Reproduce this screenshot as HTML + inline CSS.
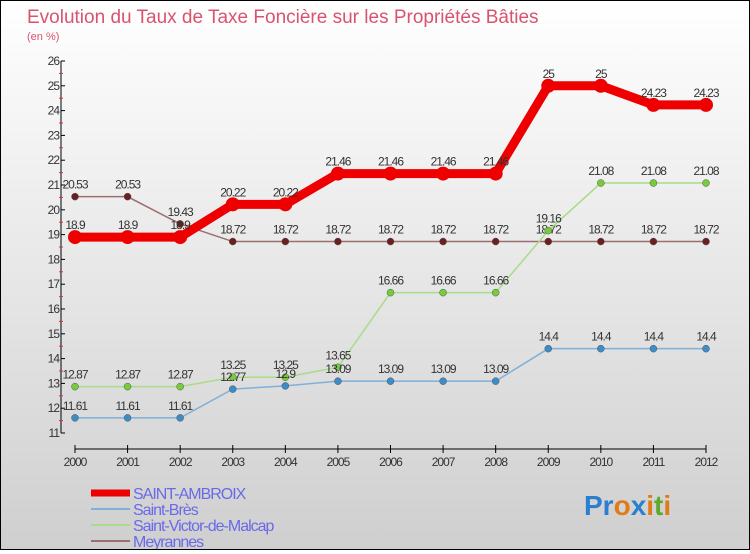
<!DOCTYPE html>
<html><head><meta charset="utf-8"><style>
html,body{margin:0;padding:0}
body{width:750px;height:550px;overflow:hidden;font-family:"Liberation Sans",sans-serif}
#wrap{position:relative;width:748px;height:548px;border:1px solid #000;background:linear-gradient(#fff,#cfcfcf)}
svg text{font-family:"Liberation Sans",sans-serif}
</style></head><body>
<div id="wrap">
<svg id="chart" width="748" height="548">
<text x="26" y="22" font-size="19" fill="#d9536f">Evolution du Taux de Taxe Foncière sur les Propriétés Bâties</text>
<text x="26" y="39" font-size="11" fill="#d9536f">(en %)</text>
<g id="axes"></g><g id="series"></g><g id="legend"></g>
<text x="583" y="514" font-size="28" font-weight="bold"><tspan fill="#2a7fd0">Pr</tspan><tspan fill="#e07b1a">o</tspan><tspan fill="#2a7fd0">x</tspan><tspan fill="#e07b1a">i</tspan><tspan fill="#5cab2e">t</tspan><tspan fill="#e07b1a">i</tspan></text>
</svg></div>
<script>
const years=[2000,2001,2002,2003,2004,2005,2006,2007,2008,2009,2010,2011,2012];
const yTicks=[11,12,13,14,15,16,17,18,19,20,21,22,23,24,25,26];
const names=["SAINT-AMBROIX","Saint-Brès","Saint-Victor-de-Malcap","Meyrannes"];
const ambroix=[18.9,18.9,18.9,20.22,20.22,21.46,21.46,21.46,21.46,25,25,24.23,24.23];
const bres=[11.61,11.61,11.61,12.77,12.9,13.09,13.09,13.09,13.09,14.4,14.4,14.4,14.4];
const victor=[12.87,12.87,12.87,13.25,13.25,13.65,16.66,16.66,16.66,19.16,21.08,21.08,21.08];
const meyr=[20.53,20.53,19.43,18.72,18.72,18.72,18.72,18.72,18.72,18.72,18.72,18.72,18.72];
const NS="http://www.w3.org/2000/svg";
const X=i=>74+i*(705-74)/(years.length-1);
const Y=v=>432-(v-11)*(372/15);
function mk(t,a,p){const e=document.createElementNS(NS,t);for(const k in a)e.setAttribute(k,a[k]);p.appendChild(e);return e;}
const ax=document.getElementById('axes');
let e=mk('line',{x1:60,y1:Y(26),x2:60,y2:Y(11),stroke:'#000'},ax);


e=mk('line',{x1:74,y1:448,x2:705,y2:448,stroke:'#000'},ax);


yTicks.forEach((t,i)=>{
  mk('line',{x1:60,y1:Y(t),x2:64,y2:Y(t),stroke:'#000'},ax);
  if(i<yTicks.length-1)mk('line',{x1:58,y1:Y(t+0.5),x2:62,y2:Y(t+0.5),stroke:'#e03030'},ax);
  const tx=mk('text',{x:58,y:Y(t)+4,'font-size':12,'text-anchor':'end',fill:'#333','letter-spacing':'-1'},ax);
  tx.textContent=t;
  
  
});
years.forEach((yr,i)=>{
  mk('line',{x1:X(i),y1:444,x2:X(i),y2:452,stroke:'#000'},ax);
  const tx=mk('text',{x:X(i),y:465,'font-size':12,'text-anchor':'middle',fill:'#333','letter-spacing':'-1'},ax);
  tx.textContent=yr;
  
  
});
const sg=document.getElementById('series');
function draw(vals,color,dot,w,r,name){
  const g=mk('g',{},sg);
  
  
  mk('polyline',{points:vals.map((v,i)=>X(i)+','+Y(v)).join(' '),fill:'none',stroke:color,'stroke-width':w},g);
  vals.forEach((v,i)=>{
    const c=mk('circle',{cx:X(i),cy:Y(v),r:r,fill:dot,stroke:r>4?'none':'#555','stroke-width':0.5},g);
    
    
    const t=mk('text',{x:X(i),y:Y(v)-8,'font-size':12,'text-anchor':'middle',fill:'#333','letter-spacing':'-1'},g);
    t.textContent=v;
    
    
  });
}
draw(meyr,'#9b6f6f','#6b1f1f',1.5,3.5,'series-meyrannes');
draw(victor,'#a8dc88','#76cc3a',1.5,3.5,'series-saint-victor');
draw(bres,'#80afd8','#3c8cc8',1.5,3.5,'series-saint-bres');
draw(ambroix,'#ee0000','#ee0000',9,7,'series-saint-ambroix');
const lg=document.getElementById('legend');
const lc=['#ee0000','#80afd8','#a8dc88','#9b6f6f'],lw=[7,2,2,2];
names.forEach((n,i)=>{
  const y=492+i*16;
  const g=mk('g',{},lg);
  
  
  mk('line',{x1:90,y1:y,x2:129,y2:y,stroke:lc[i],'stroke-width':lw[i]},g);
  const t=mk('text',{x:132,y:y+6,'font-size':16,fill:'#6a6ae8','letter-spacing':'-1'},g);
  t.textContent=n;
});
</script>
</body></html>
